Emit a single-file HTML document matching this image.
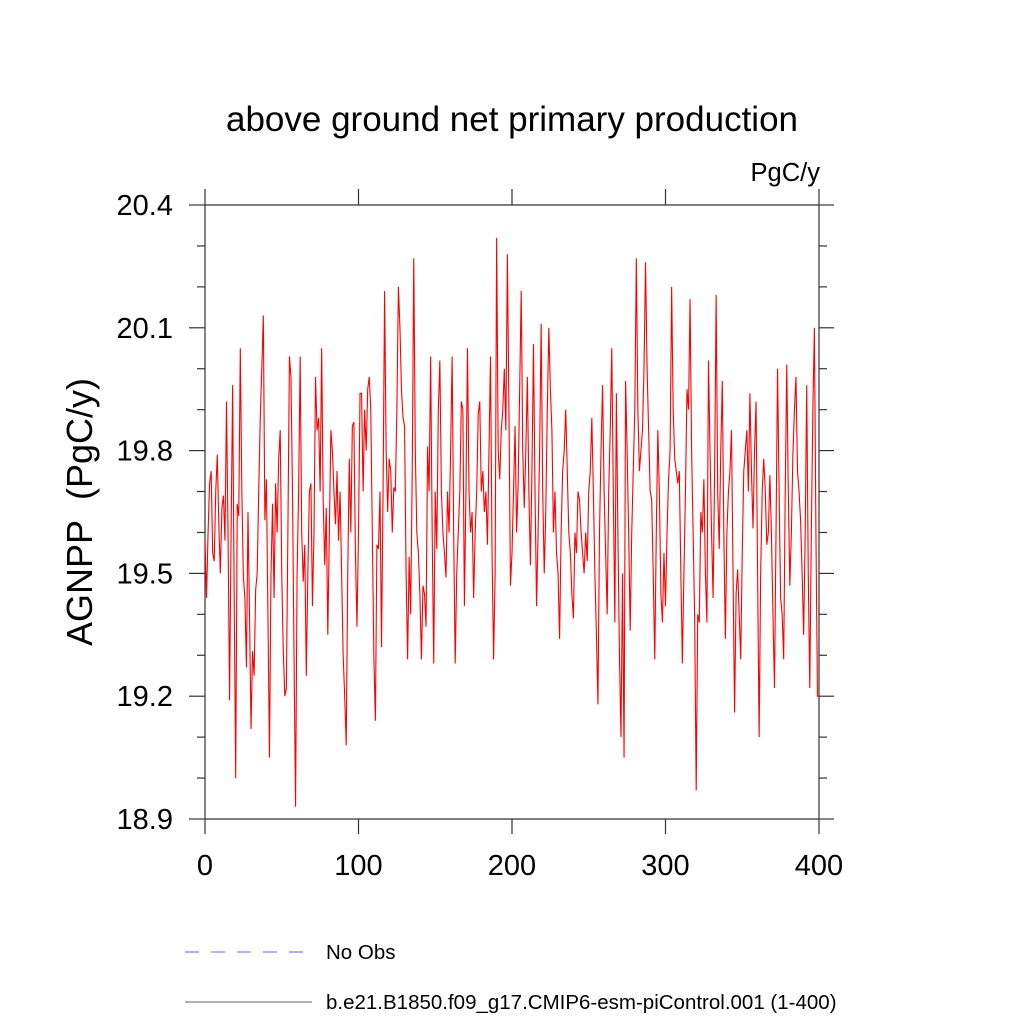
<!DOCTYPE html>
<html><head><meta charset="utf-8"><style>
html,body{margin:0;padding:0;background:#fff;}
svg{display:block;font-family:"Liberation Sans",sans-serif;}
</style></head><body>
<svg id="chart" width="1024" height="1024" viewBox="0 0 1024 1024">
<text x="512" y="131" font-size="35" text-anchor="middle">above ground net primary production</text>
<text x="820" y="181" font-size="25.5" text-anchor="end">PgC/y</text>
<text transform="translate(92,512) rotate(-90)" font-size="36" text-anchor="middle">AGNPP&#160;&#160;(PgC/y)</text>
<g id="axes"></g>
<path id="series" fill="none" stroke="#ff0000" stroke-width="1.1"/>
<g>
<line x1="185" y1="952" x2="315" y2="952" stroke="#6666ff" stroke-width="1" stroke-dasharray="14,12"/>
<text x="326" y="959" font-size="20.5">No Obs</text>
<line x1="185" y1="1002" x2="312" y2="1002" stroke="#666" stroke-width="1"/>
<text x="326" y="1009" font-size="20.5">b.e21.B1850.f09_g17.CMIP6-esm-piControl.001 (1-400)</text>
</g>
</svg>
<script>
const xTicks=[0,100,200,300,400];
const yTicks=[18.9,19.2,19.5,19.8,20.1,20.4];
const yTickLabels=["18.9","19.2","19.5","19.8","20.1","20.4"];
const values=[19.58,19.44,19.6,19.72,19.75,19.55,19.53,19.7,19.79,19.62,19.5,19.66,19.69,19.58,19.92,19.6,19.19,19.6,19.96,19.45,
19.0,19.67,19.64,20.05,19.7,19.49,19.44,19.27,19.65,19.4,19.12,19.31,19.25,19.46,19.5,19.7,19.88,20.0,20.13,19.63,
19.73,19.4,19.05,19.5,19.67,19.44,19.72,19.6,19.78,19.85,19.5,19.31,19.2,19.22,19.6,20.03,19.98,19.7,19.3,18.93,
19.5,19.7,20.03,19.6,19.48,19.57,19.25,19.5,19.7,19.72,19.42,19.6,19.98,19.85,19.88,19.7,20.05,19.68,19.52,19.66,
19.35,19.6,19.85,19.8,19.7,19.62,19.75,19.58,19.7,19.5,19.3,19.2,19.08,19.5,19.78,19.6,19.86,19.87,19.55,19.37,
19.6,19.94,19.94,19.7,19.9,19.8,19.95,19.98,19.9,19.6,19.3,19.14,19.57,19.56,19.7,19.32,19.7,20.19,19.8,19.65,
19.78,19.75,19.6,19.71,19.7,19.9,20.2,20.1,19.95,19.88,19.86,19.5,19.29,19.54,19.4,19.75,20.27,19.8,19.6,19.55,
19.45,19.29,19.47,19.45,19.37,19.81,19.7,20.03,19.6,19.28,19.7,19.56,19.9,20.02,19.7,19.6,19.55,19.49,19.7,19.6,
19.8,20.03,19.6,19.28,19.5,19.6,19.7,19.92,19.9,19.42,19.7,20.05,19.7,19.6,19.65,19.44,19.6,19.7,19.89,19.92,
19.7,19.75,19.65,19.7,19.57,19.8,20.03,19.55,19.29,19.5,20.32,19.8,19.73,19.85,19.9,20.0,19.85,20.28,19.9,19.47,
19.55,19.7,19.86,19.6,19.72,19.95,20.19,19.8,19.66,19.8,19.98,19.7,19.52,19.75,20.06,19.7,19.42,19.6,19.8,20.11,
19.7,19.5,19.65,19.9,20.1,19.95,19.85,19.6,19.7,19.55,19.5,19.34,19.6,19.75,19.8,19.9,19.75,19.6,19.55,19.45,
19.39,19.6,19.55,19.7,19.68,19.6,19.55,19.5,19.6,19.53,19.7,19.75,19.88,19.7,19.5,19.35,19.18,19.6,19.8,19.96,
19.7,19.55,19.4,19.7,19.85,20.05,19.7,19.38,19.94,19.6,19.3,19.1,19.5,19.05,19.97,19.8,19.6,19.36,19.6,19.75,
19.9,20.27,19.9,19.75,19.8,19.85,20.0,20.26,20.0,19.85,19.7,19.68,19.5,19.29,19.6,19.85,19.7,19.45,19.38,19.55,
19.42,19.6,19.73,19.8,20.2,19.9,19.78,19.75,19.72,19.75,19.5,19.28,19.5,19.7,19.95,19.9,20.17,19.8,19.6,19.39,
18.97,19.4,19.38,19.65,19.6,19.73,19.5,19.38,20.02,19.8,19.6,19.44,19.75,20.18,19.7,19.56,19.8,19.97,19.6,19.34,
19.6,19.7,19.75,19.85,19.5,19.16,19.45,19.51,19.4,19.29,19.55,19.75,19.8,19.85,19.7,19.94,19.75,19.61,19.8,19.92,
19.5,19.1,19.5,19.7,19.78,19.7,19.57,19.6,19.74,19.6,19.4,19.22,19.6,20.0,19.7,19.44,19.4,19.29,19.7,20.01,
19.7,19.47,19.6,19.79,19.9,19.98,19.75,19.7,19.63,19.5,19.35,19.6,19.96,19.5,19.22,19.6,19.9,20.1,19.6,19.2,19.2];
const X0=205,X1=819,Y0=819,Y1=205;
function xs(v){return X0+(v-0)/400*(X1-X0);}
function ys(v){return Y0-(v-18.9)/1.5*(Y0-Y1);}
const NS="http://www.w3.org/2000/svg";
const ax=document.getElementById('axes');
function ln(x1,y1,x2,y2,name){const l=document.createElementNS(NS,'line');
l.setAttribute('x1',x1);l.setAttribute('y1',y1);l.setAttribute('x2',x2);l.setAttribute('y2',y2);
l.setAttribute('stroke','#333');l.setAttribute('stroke-width','1.2');


ax.appendChild(l);}
function tx(x,y,s,anchor,name){const t=document.createElementNS(NS,'text');
t.setAttribute('x',x);t.setAttribute('y',y);t.setAttribute('font-size','29');t.setAttribute('text-anchor',anchor);t.textContent=s;


ax.appendChild(t);}
ln(X0,Y1,X1,Y1,'plot-frame-top');ln(X0,Y0,X1,Y0,'plot-frame-bottom');
ln(X0,Y1,X0,Y0,'plot-frame-left');ln(X1,Y1,X1,Y0,'plot-frame-right');
xTicks.forEach(v=>{const x=xs(v);ln(x,Y0,x,Y0+15,'x-tick');ln(x,Y1,x,Y1-16,'x-tick-top');tx(x,Y0+56,String(v),'middle','x-tick-label');});
yTicks.forEach((v,i)=>{const y=ys(v);ln(X0-16,y,X0,y,'y-tick');ln(X1,y,X1+15,y,'y-tick-right');tx(X0-32,y+10,yTickLabels[i],'end','y-tick-label');});
for(let k=0;k<=15;k++){const v=18.9+k*0.1;if(k%3===0)continue;const y=ys(v);ln(X0-8,y,X0,y,'y-minor-tick');ln(X1,y,X1+8,y,'y-minor-tick-right');}
let d='';values.forEach((v,i)=>{d+=(i?'L':'M')+xs(i).toFixed(2)+','+ys(v).toFixed(2);});
document.getElementById('series').setAttribute('d',d);
</script>
</body></html>
